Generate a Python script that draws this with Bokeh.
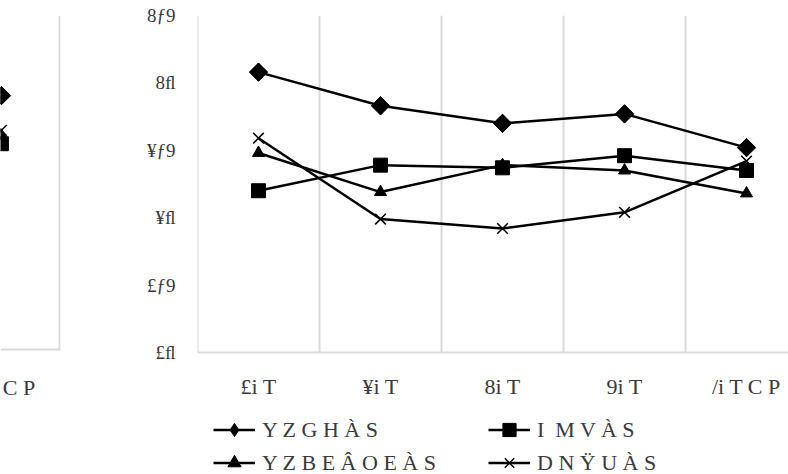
from bokeh.plotting import figure
from bokeh.models import Range1d, FixedTicker, Legend, LegendItem, Span
from bokeh.core.properties import value
from bokeh.layouts import row
from bokeh.embed import file_html
from bokeh.resources import INLINE

# ---- data ----
categories = ["£i T", "¥i T", "8i T", "9i T", "/i T C P"]
x_pos = [1, 2, 3, 4, 5]
boundaries = [0.5, 1.5, 2.5, 3.5, 4.5]
y_tick_values = [0, 0.5, 1, 1.5, 2, 2.5]
y_tick_labels = ["£ﬂ", "£ƒ9", "¥ﬂ", "¥ƒ9", "8ﬂ", "8ƒ9"]
series_names = ["Y Z G H À S", "I  M V À S", "Y Z B E Â O E À S", "D N Ÿ U À S"]
diamond_vals = [2.08, 1.83, 1.70, 1.77, 1.52]
square_vals = [1.20, 1.39, 1.37, 1.46, 1.35]
triangle_vals = [1.48, 1.19, 1.39, 1.35, 1.18]
cross_vals = [1.59, 0.99, 0.92, 1.04, 1.42]

# partially visible neighbouring chart (only its last category shows)
left_x = [5]
left_label = ["/i T C P"]
left_diamond = [1.90]
left_square = [1.54]
left_triangle = [1.60]
left_cross = [1.64]

FONT = "Liberation Serif"
TXT = "#3a3a3a"
GRID = "#d9d9d9"
Y_MAX = 2.5


def draw(fig, xs, d, s, t, c):
    out = []
    l1 = fig.line(xs, d, line_color="black", line_width=2.5)
    # plain diamond (used as the legend key) lies beneath the rotated square
    k1 = fig.scatter(xs, d, marker="diamond", size=18, color="black")
    fig.scatter(xs, d, marker="square", angle=0.7854, size=13, color="black")
    out.append([l1, k1])
    l2 = fig.line(xs, s, line_color="black", line_width=2.5)
    m2 = fig.scatter(xs, s, marker="square", size=14, color="black")
    out.append([l2, m2])
    l3 = fig.line(xs, t, line_color="black", line_width=2.5)
    m3 = fig.scatter(xs, t, marker="triangle", size=12, color="black")
    out.append([l3, m3])
    l4 = fig.line(xs, c, line_color="black", line_width=2.5)
    m4 = fig.scatter(xs, c, marker="x", size=15, line_color="black", line_width=1.5)
    out.append([l4, m4])
    return out


def base(fig, grid_x, label_x, labels, label_y):
    fig.outline_line_color = None
    fig.xaxis.visible = False
    fig.grid.visible = False
    fig.add_layout(Span(location=0, dimension="width", line_color=GRID, line_width=2))
    fig.segment(x0=grid_x, y0=[0] * len(grid_x), x1=grid_x, y1=[Y_MAX] * len(grid_x),
                line_color=GRID, line_width=2)
    fig.text(x=label_x, y=[label_y] * len(label_x), text=labels, text_align="center",
             text_baseline="middle", text_font=value(FONT), text_font_size="22px",
             text_color=TXT)


# ---- left (cut-off) chart ----
lp = figure(width=130, height=474, x_range=Range1d(4.992, 5.5083),
            y_range=Range1d(-0.9366, Y_MAX),
            output_backend="svg", toolbar_location=None,
            min_border_left=0, min_border_right=70, min_border_top=8, min_border_bottom=0)
lp.yaxis.visible = False
base(lp, [5.5], left_x, left_label, -0.288)
draw(lp, left_x, left_diamond, left_square, left_triangle, left_cross)

# ---- main chart ----
p = figure(width=658, height=474, x_range=Range1d(0.5, 5.344), y_range=Range1d(-0.905, Y_MAX),
           output_backend="svg", toolbar_location=None,
           min_border_left=67, min_border_right=0, min_border_top=15, min_border_bottom=0)
base(p, boundaries, x_pos, categories, -0.252)
p.yaxis.ticker = FixedTicker(ticks=y_tick_values)
p.yaxis.major_label_overrides = {v: t for v, t in zip(y_tick_values, y_tick_labels)}
p.yaxis.axis_line_color = None
p.yaxis.major_tick_line_color = None
p.yaxis.minor_tick_line_color = None
p.yaxis.major_label_standoff = 16
p.yaxis.major_label_text_font = FONT
p.yaxis.major_label_text_font_size = "19px"
p.yaxis.major_label_text_color = TXT

rends = draw(p, x_pos, diamond_vals, square_vals, triangle_vals, cross_vals)

# legend fills column by column: column 1 = series 1 and 3, column 2 = series 2 and 4
order = [0, 2, 1, 3]
items = [LegendItem(label=series_names[i], renderers=rends[i]) for i in order]
legend = Legend(items=items, ncols=2, location=(16, -5),
                glyph_width=42, glyph_height=33, label_height=33, label_width=226,
                label_standoff=7, spacing=0, padding=0, margin=0,
                border_line_color=None, background_fill_alpha=0,
                label_text_font=FONT, label_text_font_size="22px",
                label_text_color=TXT)
p.add_layout(legend, "center")

layout = row(lp, p)
open("out.html", "w").write(file_html(layout, INLINE))
